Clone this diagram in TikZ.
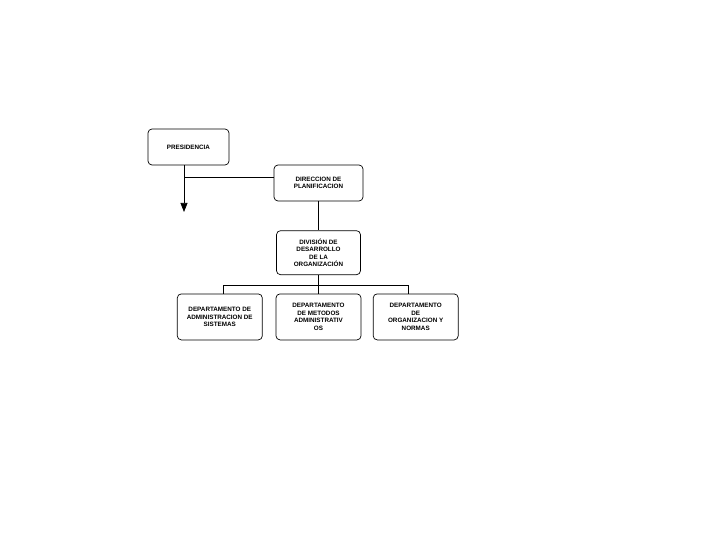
\documentclass[tikz,border=0pt]{standalone}
\usepackage{fontspec}
\setsansfont{Liberation Sans}
\usetikzlibrary{positioning,arrows.meta}

\begin{document}
\begin{tikzpicture}[x=1pt,y=-1pt,line width=0.7pt,
				unit/.style={draw,rectangle,rounded corners=4pt,align=center,inner sep=1pt,
					font=\sffamily\bfseries\fontsize{6.3}{7.6}\selectfont},
				dept/.style={unit,minimum width=85pt,minimum height=46pt}]
				\useasboundingbox (0,0) rectangle (720,540);
				\node (pres)     [unit,minimum width=81pt,minimum height=36pt] at (188.5,147) {PRESIDENCIA};
				\node (dir)      [unit,minimum width=89pt,minimum height=36pt] at (318.5,183) {DIRECCION DE\\PLANIFICACION};
				\node (div)      [unit,minimum width=84pt,minimum height=44pt,below=29pt of dir] {DIVISIÓN DE\\DESARROLLO\\DE LA\\ORGANIZACIÓN};
				\node (metodos)  [dept,below=18.5pt of div]     {DEPARTAMENTO\\DE METODOS\\ADMINISTRATIV\\OS};
				\node (sistemas) [dept,left=13pt of metodos]    {DEPARTAMENTO DE\\ADMINISTRACION DE\\SISTEMAS};
				\node (normas)   [dept,right=11.5pt of metodos] {DEPARTAMENTO\\DE\\ORGANIZACION Y\\NORMAS};
				\coordinate (tip)  at (184,212);
				\coordinate (join) at (184,177);
				
				\draw[-{Triangle[width=7pt,length=9pt]}] ([xshift=-4.5pt]pres.south) -- (tip);
				\draw (join) -- (join -| dir.west);
				\draw (dir) -- (div);
				\draw (div.south) -- ++(0,10) coordinate (bus);
				\draw ([xshift=3.5pt]sistemas.north) |- (bus) -| ([xshift=-7pt]normas.north);
				\draw (bus) -- (metodos.north);
			\end{tikzpicture}
\end{document}
